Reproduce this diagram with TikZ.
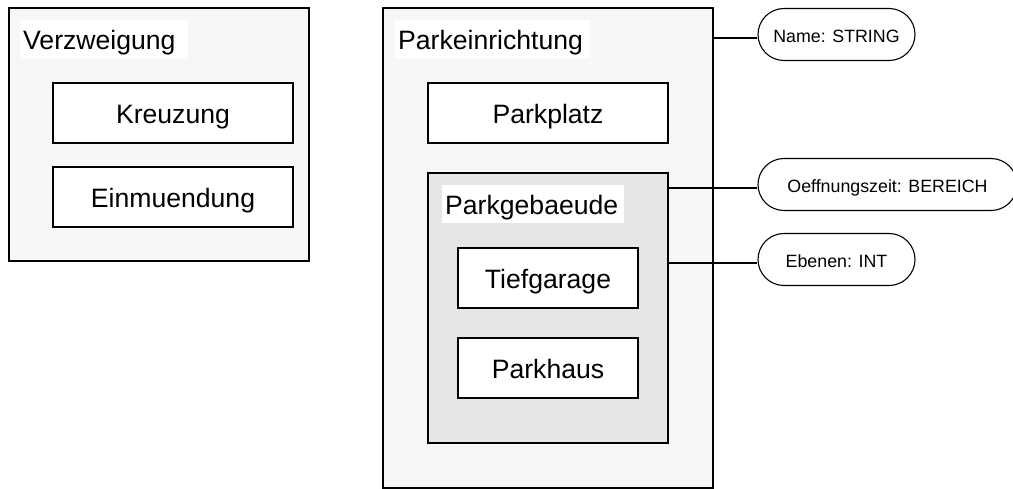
\documentclass[tikz,border=0pt]{standalone}
\usepackage{fontspec}
\setmainfont{Liberation Sans}
\definecolor{outerfill}{HTML}{F7F7F7}
\definecolor{groupfill}{HTML}{E6E6E6}
\newcommand{\bigtext}{\fontsize{26.6pt}{30pt}\selectfont}
\newcommand{\attrtext}{\fontsize{17.8pt}{21pt}\selectfont}
\begin{document}
\begin{tikzpicture}[x=1pt,y=-1pt,
  container/.style={draw=black, line width=1.2pt, fill=#1, inner sep=0pt},
  container/.default=outerfill,
  titlebox/.style={fill=white, anchor=north west, inner xsep=3pt, inner ysep=0pt,
    text height=29.3pt, text depth=8.7pt, align=left, text width=#1, font=\bigtext},
  entity/.style={draw=black, line width=1.2pt, fill=white, inner sep=0pt,
    minimum width=#1, minimum height=60pt, text height=21pt, text depth=0pt, font=\bigtext},
  entity/.default=240pt,
  attr/.style={draw=black, line width=1.1pt, fill=white, inner sep=0pt, rounded corners=26pt,
    minimum width=#1, minimum height=52pt, text height=16pt, text depth=0pt, font=\attrtext},
  link/.style={draw=black, line width=1.2pt}]
\useasboundingbox (0,0) rectangle (1013,489);

% left group: Verzweigung
\node[container, minimum width=300pt, minimum height=253pt] (vz) at (159,134.5) {};
\node[titlebox=162pt] (vzt) at (20,20) {Verzweigung};
\node[entity] (kr) at (173,113) {Kreuzung};
\node[entity] (em) at (173,197) {Einmuendung};

% right group: Parkeinrichtung
\node[container, minimum width=330pt, minimum height=480pt] (pe) at (548,248) {};
\node[titlebox=189pt] (pet) at (395,20) {Parkeinrichtung};
\node[entity] (pp) at (548,113) {Parkplatz};

% nested group: Parkgebaeude
\node[container=groupfill, minimum width=240pt, minimum height=270pt] (pg) at (548,308) {};
\node[titlebox=176pt] (pgt) at (442,185) {Parkgebaeude};
\node[entity=180pt] (tg) at (548,278) {Tiefgarage};
\node[entity=180pt] (ph) at (548,368) {Parkhaus};

% attributes
\node[attr=157pt] (name) at (836.5,34.5) {Name: STRING};
\node[attr=259pt] (oz) at (887.5,184.5) {Oeffnungszeit: BEREICH};
\node[attr=157pt] (eb) at (836.5,259.5) {Ebenen: INT};

\draw[link] ([yshift=-3.5pt]name.west) -- ([yshift=-3.5pt]name.west -| pe.east);
\draw[link] ([yshift=-3.5pt]oz.west) -- ([yshift=-3.5pt]oz.west -| pg.east);
\draw[link] ([yshift=-3.5pt]eb.west) -- ([yshift=-3.5pt]eb.west -| pg.east);
\end{tikzpicture}
\end{document}
